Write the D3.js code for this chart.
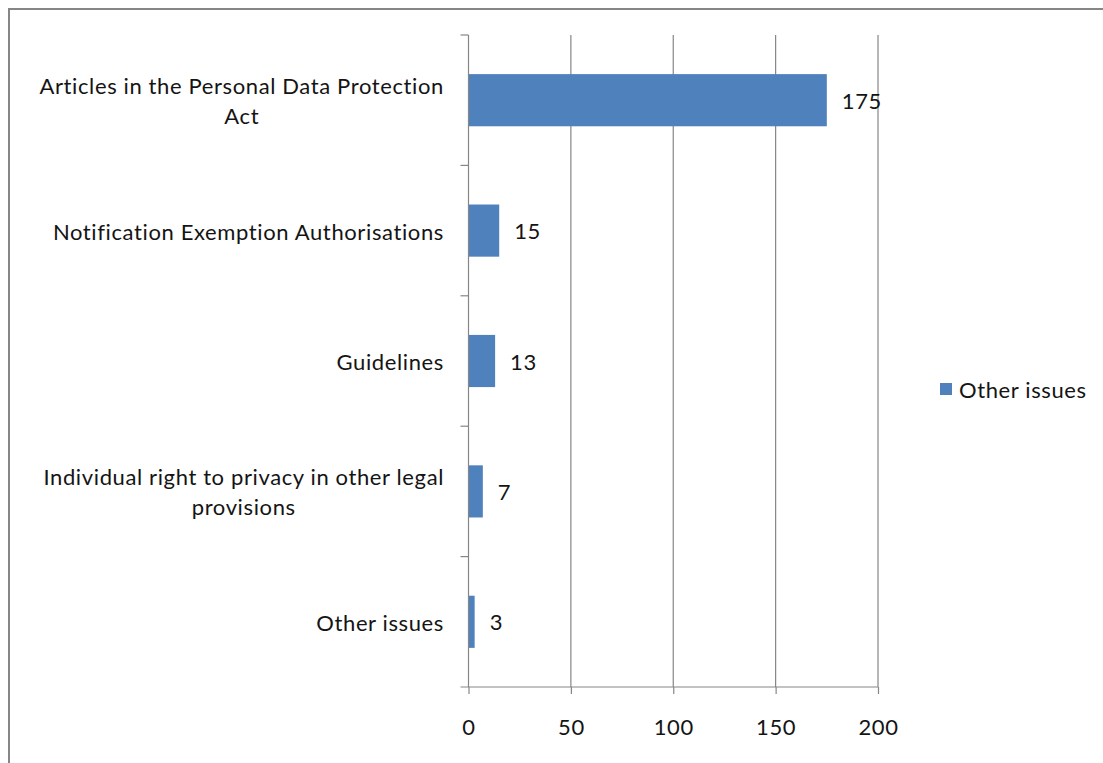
<!DOCTYPE html>
<html>
<head>
<meta charset="utf-8">
<script src="https://cdn.jsdelivr.net/npm/d3@7/dist/d3.min.js"></script>
<style>
  html, body { margin: 0; padding: 0; background: #fff; }
  svg { display: block; }
  text { font-family: Lato, "Open Sans", sans-serif; fill: #141414; }
  .wide { letter-spacing: 0.62px; }
</style>
</head>
<body>
<svg id="chart" width="1103" height="763"></svg>
<script>
// Counts by topic
const categories = [
  ["Articles in the Personal Data Protection", "Act"],
  ["Notification Exemption Authorisations"],
  ["Guidelines"],
  ["Individual right to privacy in other legal", "provisions"],
  ["Other issues"]
];
const values = [175, 15, 13, 7, 3];
const xTicks = [0, 50, 100, 150, 200];
const seriesName = "Other issues";

const W = 1103, H = 763;
const svg = d3.select("#chart");
const fontSize = 22;
const barColor = "#4f81bd";
const gridColor = "#868686";

// outer frame (only top and left edges fall inside the view)
svg.append("rect")
  .attr("x", 9).attr("y", 9)
  .attr("width", W + 20).attr("height", H + 20)
  .attr("fill", "none").attr("stroke", "#868686").attr("stroke-width", 2);

const plot = { left: 468.5, right: 878, top: 35, bottom: 687 };

const x = d3.scaleLinear().domain([0, 200]).range([plot.left, plot.right]);
const yOuter = d3.scaleBand().domain(d3.range(categories.length))
  .range([plot.top, plot.bottom]);
const barH = yOuter.bandwidth() / 2.5;

// vertical gridlines
svg.append("g").selectAll("line")
  .data(xTicks.filter(d => d > 0))
  .join("line")
  .attr("x1", d => x(d)).attr("x2", d => x(d))
  .attr("y1", plot.top).attr("y2", plot.bottom)
  .attr("stroke", gridColor).attr("stroke-width", 1.2);

// bars
svg.append("g").selectAll("rect")
  .data(values)
  .join("rect")
  .attr("x", x(0))
  .attr("y", (d, i) => yOuter(i) + yOuter.bandwidth() / 2 - barH / 2)
  .attr("width", d => x(d) - x(0))
  .attr("height", barH)
  .attr("fill", barColor);

// x axis
const xAxis = svg.append("g")
  .attr("transform", `translate(0,${plot.bottom})`)
  .call(d3.axisBottom(x).tickValues(xTicks).tickSize(7).tickSizeOuter(0).tickPadding(25));
xAxis.select(".domain").remove();
xAxis.append("line")
  .attr("x1", plot.left - 8).attr("x2", plot.right)
  .attr("stroke", gridColor).attr("stroke-width", 1.2);
xAxis.selectAll(".tick line").attr("stroke", gridColor).attr("stroke-width", 1.2);
xAxis.selectAll(".tick text")
  .attr("font-size", fontSize).attr("font-family", "Lato, sans-serif").attr("fill", "#141414")
  .attr("class", "wide");

// y axis: line with ticks at category boundaries
const yAxis = svg.append("g");
yAxis.append("line")
  .attr("x1", plot.left).attr("x2", plot.left)
  .attr("y1", plot.top).attr("y2", plot.bottom)
  .attr("stroke", gridColor).attr("stroke-width", 1.2);
const bounds = d3.range(categories.length).map(i => yOuter(i));
yAxis.selectAll("line.tk")
  .data(bounds)
  .join("line").attr("class", "tk")
  .attr("x1", plot.left - 8).attr("x2", plot.left)
  .attr("y1", d => d).attr("y2", d => d)
  .attr("stroke", gridColor).attr("stroke-width", 1.2);

// category labels: block right-aligned, lines centered within block
const labelRight = 444;
const lineH = 30;
const labelG = svg.append("g").attr("font-size", fontSize);
categories.forEach((lines, i) => {
  const cy = yOuter(i) + yOuter.bandwidth() / 2;
  const t = labelG.append("text").attr("class", "wide").attr("dominant-baseline", "central");
  const spans = lines.map((s, k) => t.append("tspan")
    .attr("y", cy + (k - (lines.length - 1) / 2) * lineH)
    .text(s));
  const widths = spans.map(sp => sp.node().getComputedTextLength());
  const maxW = d3.max(widths);
  spans.forEach(sp => sp.attr("x", labelRight - maxW / 2).attr("text-anchor", "middle"));
});

// value labels
svg.append("g").selectAll("text")
  .data(values)
  .join("text")
  .attr("class", "wide")
  .attr("x", d => x(d) + 15)
  .attr("y", (d, i) => yOuter(i) + yOuter.bandwidth() / 2)
  .attr("dominant-baseline", "central")
  .attr("font-size", fontSize)
  .text(d => d);

// legend
const lg = svg.append("g").attr("transform", "translate(940,389)");
lg.append("rect").attr("x", 0).attr("y", -6).attr("width", 12).attr("height", 12).attr("fill", barColor);
lg.append("text").attr("class", "wide").attr("x", 19).attr("y", 0).attr("dominant-baseline", "central")
  .attr("font-size", fontSize).text(seriesName);
</script>
</body>
</html>
